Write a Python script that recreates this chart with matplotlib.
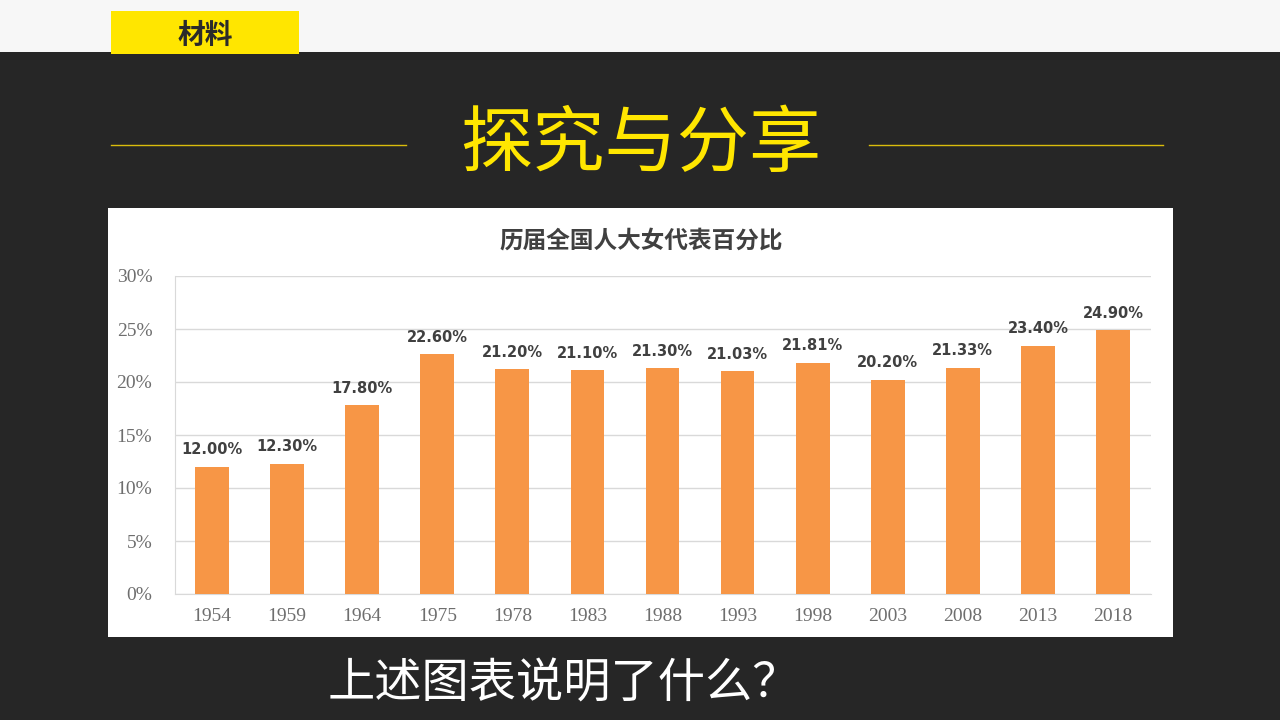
import matplotlib.pyplot as plt
from matplotlib.patches import Rectangle
from matplotlib.lines import Line2D
from matplotlib.ticker import FuncFormatter

plt.rcParams['font.family'] = ['Noto Sans CJK SC', 'DejaVu Sans']

years = ['1954', '1959', '1964', '1975', '1978', '1983', '1988',
         '1993', '1998', '2003', '2008', '2013', '2018']
shares = [12.00, 12.30, 17.80, 22.60, 21.20, 21.10, 21.30,
          21.03, 21.81, 20.20, 21.33, 23.40, 24.90]
yticks = [0, 5, 10, 15, 20, 25, 30]

W, H = 1280, 720
fig = plt.figure(figsize=(12.8, 7.2), dpi=100)
fig.patch.set_facecolor('#262626')

def px(x, y):
    return x / W, 1 - y / H

# top light strip and label box
fig.add_artist(Rectangle((0, 1 - 52 / H), 1, 52 / H, transform=fig.transFigure,
                         facecolor='#f7f7f7', edgecolor='none', zorder=-2))
fig.add_artist(Rectangle(px(111, 54), 188 / W, 43 / H, transform=fig.transFigure,
                         facecolor='#ffe600', edgecolor='none', zorder=-1))
fig.text(*px(205, 36), '材料', ha='center', va='center', fontsize=20,
         fontweight='bold', color='#2b2b2b')

# heading with side rules
fig.text(*px(641, 145), '探究与分享', ha='center', va='center', fontsize=52,
         color='#ffe600')
for x0, x1 in [(111, 406), (869, 1163)]:
    fig.add_artist(Line2D([x0 / W, x1 / W], [1 - 145 / H] * 2,
                          transform=fig.transFigure, color='#d9bc0c', lw=1))

# white chart panel (behind the axes)
fig.add_artist(Rectangle(px(108, 637), 1065 / W, 429 / H, transform=fig.transFigure,
                         facecolor='white', edgecolor='none', zorder=-1))
fig.text(*px(641, 241), '历届全国人大女代表百分比', ha='center', va='center',
         fontsize=17, fontweight='bold', color='#404040')

ax = fig.add_axes([174.5 / W, 1 - 594 / H, 976 / W, 318 / H])
ax.set_facecolor('white')
x = range(len(years))
ax.bar(x, shares, width=0.45, color='#f79646', zorder=3)
for xi, v in zip(x, shares):
    ax.text(xi, v + 0.9, f'{v:.2f}%', ha='center', va='bottom', fontsize=10.5,
            fontweight='bold', color='#404040', family='DejaVu Sans')

ax.set_xlim(-0.5, len(years) - 0.5)
ax.set_ylim(0, 30)
ax.set_yticks(yticks)
ax.yaxis.set_major_formatter(FuncFormatter(lambda v, p: f'{int(v)}%'))
ax.set_xticks(list(x))
ax.set_xticklabels(years)
ax.grid(axis='y', color='#d9d9d9', lw=1, zorder=0)
ax.tick_params(length=0, labelsize=14, colors='#6e6e6e', pad=10)
ax.tick_params(axis='y', pad=16)
for lab in ax.get_xticklabels() + ax.get_yticklabels():
    lab.set_family('Liberation Serif')
for s in ['top', 'right']:
    ax.spines[s].set_visible(False)
for s in ['left', 'bottom']:
    ax.spines[s].set_color('#d9d9d9')

fig.text(*px(328, 684), '上述图表说明了什么？', ha='left', va='center',
         fontsize=34, color='white')

fig.savefig('out.png', dpi=100, facecolor=fig.get_facecolor())
